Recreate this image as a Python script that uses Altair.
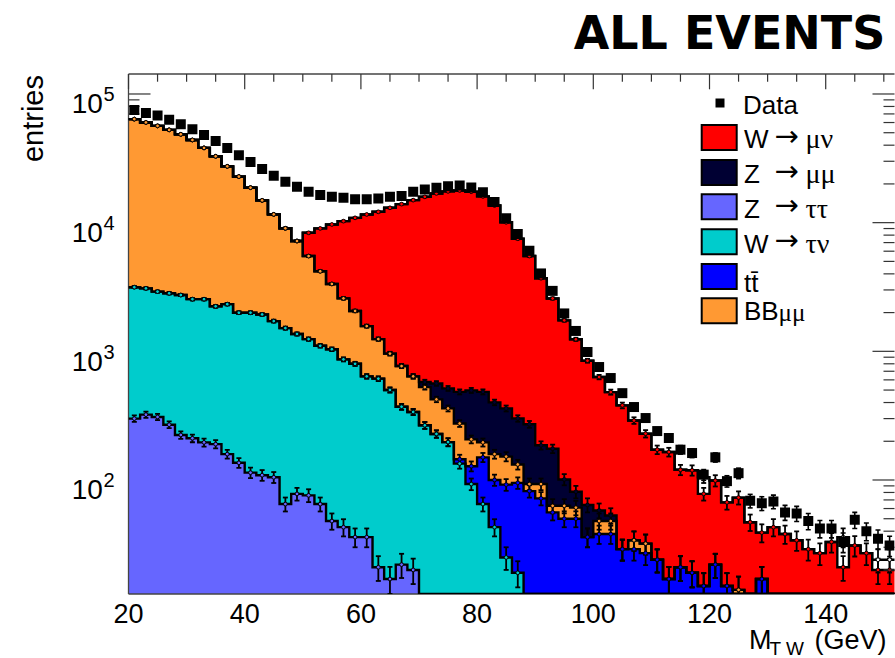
import math
import altair as alt
import pandas as pd

# ---------------- binning and axis ranges ----------------
BIN_LO = 20.0           # GeV, lower edge of the first bin
BIN_W = 2.0             # GeV per bin
N_BINS = 66
X_MAX = 151.84          # right end of the visible M_T range
Y_MIN, Y_MAX = 13.0, 1.43e5

PLOT_W, PLOT_H = 766, 520
PAD_L, PAD_T = 128.5, 74
FONT = "Liberation Sans"
SERIF = "Liberation Serif"

# ---------------- observed data (entries per 2 GeV bin) ----------------
data_obs = [75100, 71300, 67900, 63100, 58300, 53200, 48100, 43100, 38100, 33400,
            29600, 26100, 23100, 20800, 19000, 17400, 16400, 15900, 15600, 15200,
            15200, 15400, 15900, 16100, 17400, 18100, 18700, 19200, 19400, 18800,
            17200, 14500, 10800, 8150, 6040, 4030, 2950, 1970, 1440, 988,
            755, 620, 473, 369, 303, 240, 212, 172, 162, 110,
            150, 98, 113, 69, 66, 68, 56, 55, 48, 42,
            42, 33, 49, 40, 35, 31]

# ---------------- simulated processes (entries per bin) ----------------
z_tautau = [300, 322, 309, 269, 224, 211, 196, 190, 159, 136, 114, 109, 105,
            65, 78, 76, 65, 48, 43, 36, 36, 21, 17, 22, 20] + [0] * 41

w_taunu = [2850, 2763, 2601, 2556, 2514, 2332, 2347, 2049, 2167, 1859, 1881, 1826, 1613,
           1450, 1286, 1169, 1039, 990, 823, 764, 603, 592, 484, 349, 318,
           266, 228, 197, 134, 93, 65, 43, 25, 19] + [0] * 32

ttbar = [0] * 28 + [11, 35, 85, 57, 67, 76, 82, 72, 56, 50, 50, 36, 38, 38, 29, 29,
                    27, 24, 17, 21, 19, 15, 22, 15, 0, 0, 17] + [0] * 11

bb_mumu = [60650, 57015, 53590, 49775, 45862, 41357, 35557, 30561, 25074, 20805,
           16705, 12965, 9882, 7525, 5836, 4255, 3086, 2302, 1714, 1260,
           931, 632, 459, 397, 301, 261, 195, 163, 130, 79,
           46, 59, 60, 37, 11, 21, 7, 13, 11, 0,
           10, 10, 0, 5, 5, 0, 0, 0, 0, 0,
           0, 0, 14, 0, 0, 0, 0, 0, 0, 0,
           0, 0, 0, 0, 0, 0]

z_mumu = [0] * 25 + [50, 140, 155, 209, 290, 288, 242, 208, 169, 178, 93, 112, 38, 20,
                     28, 10, 5] + [0] * 24

w_munu = [0] * 15 + [2840, 4830, 6340, 7690, 8840, 10010, 10895, 12080, 13162, 14321,
                     15303, 16307, 16985, 17316, 16903, 15516, 13199, 9700, 7199, 5229,
                     3514, 2400, 1639, 1159, 781,
                     573, 429, 351, 256, 197, 148, 148, 99, 100, 63,
                     77, 52, 59, 47, 22, 43, 38, 34, 29, 27,
                     33, 21, 31, 27, 20, 20]

other = [0] * 49 + [27] + [0] * 11 + [15] + [0] * 2 + [4, 4]

# stacking order, bottom to top
processes = [
    ("Z → ττ", z_tautau, "#6666ff"),
    ("W → τν", w_taunu, "#00cccc"),
    ("tt̄", ttbar, "#0000ff"),
    ("BBμμ", bb_mumu, "#ff9933"),
    ("Z → μμ", z_mumu, "#000033"),
    ("W → μν", w_munu, "#ff0000"),
    ("other", other, "#ffffff"),
]

edges = [BIN_LO + BIN_W * i for i in range(N_BINS + 1)]
centers = [BIN_LO + BIN_W * (i + 0.5) for i in range(N_BINS)]
FLOOR = 1e-3     # stands in for zero on the log axis (clamped to the bottom)
CAP = 0.43       # half width of the error-bar caps, GeV

# cumulative sums: the step outline, the bin-centre marker and the
# statistical error bar of every histogram in the stack
step_frames, mark_rows, err_rows = [], [], []
running = [0.0] * N_BINS
for order, (name, vals, color) in enumerate(processes):
    running = [r + v for r, v in zip(running, vals)]
    rows = [dict(name=name, order=order, color=color, x=edges[i],
                 y=max(running[min(i, N_BINS - 1)], FLOOR), base=FLOOR)
            for i in range(N_BINS + 1)]
    step_frames.append(pd.DataFrame(rows))
    for i, c in enumerate(running):
        if c < Y_MIN or (name == "other" and vals[i] == 0):
            continue
        e = math.sqrt(c)
        mark_rows.append(dict(order=order, color=color, x=centers[i], y=c))
        err_rows.append(dict(order=order, x=centers[i], xa=centers[i] - CAP,
                             xb=centers[i] + CAP, lo=max(c - e, FLOOR), hi=c + e))

# the lower histograms are drawn last, so their markers end up on top
mark_df = pd.DataFrame(mark_rows).sort_values("order", ascending=False, kind="stable")
err_df = pd.DataFrame(err_rows).sort_values("order", ascending=False, kind="stable")

data_df = pd.DataFrame({"center": centers, "n": data_obs})
data_df["lo"] = [n - math.sqrt(n) for n in data_obs]
data_df["hi"] = [n + math.sqrt(n) for n in data_obs]
data_df["xa"] = data_df["center"] - CAP
data_df["xb"] = data_df["center"] + CAP

xs = alt.Scale(domain=[BIN_LO, X_MAX], nice=False, zero=False)
ys = alt.Scale(type="log", domain=[Y_MIN, Y_MAX], nice=False, clamp=True)

one = pd.DataFrame({"k": [0]})
LINE_COLOR = "#444"
TICK_COLOR = "#333"

# ---------------- stacked fills: highest sum first, lower ones painted over ----------------
fill_layers = []
for df in reversed(step_frames):
    color = df["color"].iloc[0]
    fill_layers.append(
        alt.Chart(df).mark_area(interpolate="step-after", clip=True, color=color, opacity=1).encode(
            x=alt.X("x:Q", scale=xs, axis=None),
            y=alt.Y("y:Q", scale=ys, axis=None),
            y2="base:Q",
        )
    )

outline_df = pd.concat(step_frames, ignore_index=True)
outlines = alt.Chart(outline_df).mark_line(
    interpolate="step-after", clip=True, color="black", strokeWidth=2.4
).encode(
    x=alt.X("x:Q", scale=xs, axis=None),
    y=alt.Y("y:Q", scale=ys, axis=None),
    detail="name:N",
    order=alt.Order("x:Q"),
)


def error_bars(df, width):
    return alt.layer(
        alt.Chart(df).mark_rule(color="black", strokeWidth=width, clip=True).encode(
            x=alt.X("x:Q", scale=xs, axis=None), y=alt.Y("lo:Q", scale=ys, axis=None), y2="hi:Q"),
        alt.Chart(df).mark_rule(color="black", strokeWidth=width, clip=True).encode(
            x=alt.X("xa:Q", scale=xs, axis=None), x2="xb:Q", y=alt.Y("lo:Q", scale=ys, axis=None)),
        alt.Chart(df).mark_rule(color="black", strokeWidth=width, clip=True).encode(
            x=alt.X("xa:Q", scale=xs, axis=None), x2="xb:Q", y=alt.Y("hi:Q", scale=ys, axis=None)),
    )


mc_errors = error_bars(err_df, 1.8)
mc_markers = alt.Chart(mark_df).mark_point(
    shape="circle", filled=True, size=14, stroke="black", strokeWidth=1, opacity=1, clip=True
).encode(
    x=alt.X("x:Q", scale=xs, axis=None),
    y=alt.Y("y:Q", scale=ys, axis=None),
    fill=alt.Fill("color:N", scale=None),
)

data_errors = error_bars(data_df.rename(columns={"center": "x"}), 1.6)
points = alt.Chart(data_df).mark_square(size=100, color="black", opacity=1, clip=True).encode(
    x=alt.X("center:Q", scale=xs, axis=None),
    y=alt.Y("n:Q", scale=ys, axis=None),
)

# ---------------- frame and ticks (ticks inside the frame) ----------------
x_major = [20, 40, 60, 80, 100, 120, 140]
x_minor = [v for v in range(25, 151, 5) if v % 20 != 0]
y_major = [1e2, 1e3, 1e4, 1e5]
y_minor = [m * d for d in (10, 100, 1000, 10000) for m in range(2, 10)
           if Y_MIN <= m * d <= Y_MAX]


def y_ticks(values, x0, x1):
    return alt.Chart(pd.DataFrame({"v": values})).mark_rule(color=TICK_COLOR, strokeWidth=1.2).encode(
        y=alt.Y("v:Q", scale=ys, axis=None), x=alt.value(x0), x2=alt.value(x1))


def x_ticks(values, length):
    return alt.Chart(pd.DataFrame({"v": values})).mark_rule(color=TICK_COLOR, strokeWidth=1.2).encode(
        x=alt.X("v:Q", scale=xs, axis=None), y=alt.value(0), y2=alt.value(length))


left_ticks = alt.layer(y_ticks(y_major, 0, 22), y_ticks(y_minor, 0, 11))
right_ticks = alt.layer(y_ticks(y_major, PLOT_W - 22, PLOT_W), y_ticks(y_minor, PLOT_W - 11, PLOT_W))
top_ticks = alt.layer(x_ticks(x_major, 15.3), x_ticks(x_minor, 7.7))

frame = alt.layer(
    alt.Chart(one).mark_rule(color=LINE_COLOR, strokeWidth=1.3).encode(
        x=alt.value(0), x2=alt.value(PLOT_W), y=alt.value(0)),
    alt.Chart(one).mark_rule(color=LINE_COLOR, strokeWidth=1.3).encode(
        x=alt.value(0), x2=alt.value(PLOT_W), y=alt.value(PLOT_H)),
    alt.Chart(one).mark_rule(color=LINE_COLOR, strokeWidth=1.3).encode(
        x=alt.value(0), y=alt.value(0), y2=alt.value(PLOT_H)),
)

# ---------------- tick labels ----------------
x_lab = alt.Chart(pd.DataFrame({"v": x_major, "t": [str(v) for v in x_major]})).mark_text(
    align="center", baseline="alphabetic", fontSize=27, font=FONT, color="black"
).encode(x=alt.X("v:Q", scale=xs, axis=None), y=alt.value(PLOT_H + 28.7), text="t:N")

dec_df = pd.DataFrame({"v": y_major, "base": ["10"] * 4, "exp": ["2", "3", "4", "5"]})
dec_base = alt.Chart(dec_df).mark_text(
    align="right", baseline="alphabetic", fontSize=28, font=FONT, color="black", dy=19.5
).encode(y=alt.Y("v:Q", scale=ys, axis=None), x=alt.value(-25.7), text="base:N")
dec_exp = alt.Chart(dec_df).mark_text(
    align="left", baseline="alphabetic", fontSize=20, font=FONT, color="black", dy=7.5
).encode(y=alt.Y("v:Q", scale=ys, axis=None), x=alt.value(-25.0), text="exp:N")


def label(txt, x, y, size, font=FONT, align="left", **kw):
    return alt.Chart(one).mark_text(
        text=txt, fontSize=size, font=font, align=align, baseline="alphabetic",
        color="black", **kw
    ).encode(x=alt.value(x), y=alt.value(y))


texts = [
    label("ALL EVENTS", 601, -24.7, 46, font="DejaVu Sans", align="center", fontWeight="bold"),
    label("entries", -85.5, 1, 29, align="right", angle=270),
    label("M", 620.5, 574.8, 27),
    label("T W", 641, 580.5, 19),
    label("(GeV)", 686, 574.8, 27),
]

# ---------------- legend ----------------
legend_layers = [
    alt.Chart(one).mark_square(size=81, color="black", opacity=1).encode(
        x=alt.value(591.5), y=alt.value(29)),
    label("Data", 614.5, 40.3, 26),
]
legend_rows = [
    ("W", "μν", "#ff0000"),
    ("Z", "μμ", "#000033"),
    ("Z", "ττ", "#6666ff"),
    ("W", "τν", "#00cccc"),
    ("tt̄", "", "#0000ff"),
    ("BB", "μμ", "#ff9933"),
]
row_tops = [51, 86, 120.3, 155.3, 190, 224.3]
for (head, tail, color), top in zip(legend_rows, row_tops):
    legend_layers.append(
        alt.Chart(one).mark_rect(fill=color, stroke="black", strokeWidth=2).encode(
            x=alt.value(573.2), x2=alt.value(608.2), y=alt.value(top), y2=alt.value(top + 25)))
    if head == "tt̄":
        legend_layers.append(label(head, 615.5, top + 28, 26))
    elif head == "BB":
        legend_layers.append(label(head, 615.5, top + 21.5, 26))
        legend_layers.append(label(tail, 650, top + 23, 25, font=SERIF))
    else:
        legend_layers.append(label(head, 615.5, top + 23.3, 26))
        legend_layers.append(label("→", 646, top + 21, 29, font="DejaVu Sans"))
        legend_layers.append(label(tail, 677, top + 23.3, 28, font=SERIF))

chart = alt.layer(
    left_ticks, *fill_layers, frame, outlines, mc_errors, mc_markers,
    top_ticks, right_ticks, data_errors, points,
    x_lab, dec_base, dec_exp, *texts, *legend_layers
).properties(
    width=PLOT_W, height=PLOT_H,
    padding={"left": PAD_L, "top": PAD_T, "right": 0, "bottom": 64},
    autosize=alt.AutoSizeParams(type="none"),
).configure_view(stroke=None)

chart.save("out.html", embed_options={"renderer": "svg", "actions": False})
